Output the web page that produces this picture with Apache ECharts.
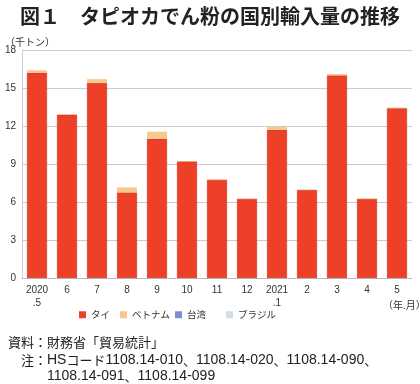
<!DOCTYPE html>
<html><head><meta charset="utf-8">
<script src="https://cdn.jsdelivr.net/npm/echarts@6/dist/echarts.min.js"></script>
<style>html,body{margin:0;padding:0;background:#fff;}#c{width:420px;height:384px;}</style>
</head><body><div id="c"></div>
<script>
const categories = ['2020\n.5','6','7','8','9','10','11','12','2021\n.1','2','3','4','5'];
const thai =    [16.2, 12.9, 15.4, 6.75, 11.0, 9.2, 7.75, 6.25, 11.7, 6.95, 16.0, 6.25, 13.4];
const vietnam = [0.2, 0.05, 0.3, 0.4, 0.55, 0.03, 0.05, 0.02, 0.25, 0.02, 0.1, 0.02, 0.05];
const taiwan =  [0, 0, 0, 0, 0, 0, 0, 0, 0, 0, 0, 0, 0];
const brazil =  [0, 0, 0, 0, 0, 0, 0, 0, 0, 0, 0, 0, 0];
const yTicks = [0, 3, 6, 9, 12, 15, 18];
const seriesNames = ['タイ','ベトナム','台湾','ブラジル'];

const font = '"Liberation Sans", "Noto Sans CJK JP", sans-serif';
const jfont = '"Noto Sans CJK JP", sans-serif';
const noteRich = {
  j:{fontSize:13, fontWeight:'normal', fontFamily:jfont, color:'#222'},
  n:{fontSize:14, fontWeight:'normal', fontFamily:'"Liberation Sans", sans-serif', color:'#222'}
};
const legendLefts = [74, 115, 170, 221];
const chart = echarts.init(document.getElementById('c'), null, {renderer:'canvas'});
chart.setOption({
  animation:false,
  textStyle:{fontFamily:font},
  title:[
    {text:'図１　タピオカでん粉の国別輸入量の推移', left:'center', top:1,
     textStyle:{fontSize:20, fontWeight:'bold', color:'#222', fontFamily:jfont}},
    {text:'（千トン）', left:0, top:32, textStyle:{fontSize:10, fontWeight:'normal', color:'#333', fontFamily:jfont}},
    {text:'（年.月）', left:378, top:295, textStyle:{fontSize:10, fontWeight:'normal', color:'#333', fontFamily:jfont}},
    {text:'資料：財務省「貿易統計」', left:3, top:331, textStyle:{fontSize:13, fontWeight:'normal', color:'#222', fontFamily:jfont}},
    {text:'{j|注：}{n|HS}{j|コード}{n|1108.14-010}{j|、}{n|1108.14-020}{j|、}{n|1108.14-090}{j|、}', left:16, top:348,
     textStyle:{fontWeight:'normal', rich:noteRich}},
    {text:'{n|1108.14-091}{j|、}{n|1108.14-099}', left:42, top:364, textStyle:{fontWeight:'normal', rich:noteRich}}
  ],
  legend: seriesNames.map((n,i)=>({
    top:305, left:legendLefts[i], itemWidth:7, itemHeight:7, itemGap:8, icon:'rect',
    itemStyle:{borderWidth:0},
    textStyle:{fontSize:9.5, color:'#333', fontFamily:jfont},
    data:[n]
  })),
  grid:{left:22, right:8, top:50, bottom:106},
  xAxis:{
    type:'category', data:categories,
    axisLine:{show:true, lineStyle:{color:'#bbb'}},
    axisTick:{show:false},
    axisLabel:{fontSize:10, color:'#333', lineHeight:13, margin:6, interval:0}
  },
  yAxis:{
    type:'value', min:0, max:18, interval:3,
    axisLine:{show:true, lineStyle:{color:'#ccc'}},
    axisTick:{show:false},
    splitLine:{lineStyle:{color:'#ccc'}},
    axisLabel:{fontSize:10, color:'#333', margin:6,
      formatter:v=> yTicks.includes(v) ? String(v) : ''}
  },
  series:[
    {name:seriesNames[0], type:'bar', stack:'a', data:thai, barWidth:20,
     itemStyle:{color:'#EE4029', borderColor:'#c8331f', borderWidth:0.6}},
    {name:seriesNames[1], type:'bar', stack:'a', data:vietnam, barWidth:20,
     itemStyle:{color:'#F8C98E'}},
    {name:seriesNames[2], type:'bar', stack:'a', data:taiwan, barWidth:20,
     itemStyle:{color:'#7d8fcc'}},
    {name:seriesNames[3], type:'bar', stack:'a', data:brazil, barWidth:20,
     itemStyle:{color:'#cfdde8'}}
  ]
});
</script></body></html>
